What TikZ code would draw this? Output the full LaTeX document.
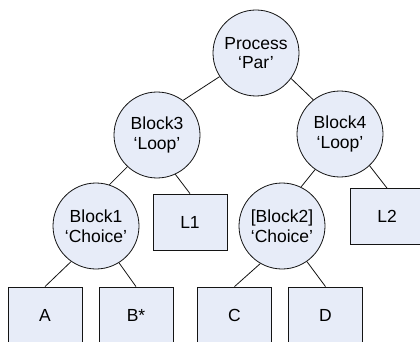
\documentclass[tikz,border=0pt]{standalone}
\usepackage{fontspec}
\setmainfont{Liberation Sans}
\usepackage{tikz}
\usetikzlibrary{positioning}
\usepackage{xcolor}
\definecolor{nodeline}{RGB}{20, 20, 20}
\definecolor{nodebg}{RGB}{231, 236, 248}

\begin{document}
\begin{tikzpicture}[
    x=1pt, y=-1pt,
    block/.style={circle, draw=nodeline, fill=nodebg, line width=0.8pt, minimum size=86pt, inner sep=0pt, align=center, font=\fontsize{17.5pt}{19.5pt}\selectfont},
    leaf/.style={rectangle, draw=nodeline, fill=nodebg, line width=0.8pt, minimum width=74pt, minimum height=56pt, inner sep=0pt, font=\fontsize{17.5pt}{19.5pt}\selectfont},
    edge/.style={draw=nodeline, line width=0.8pt}
]
    \useasboundingbox[fill=white] (0,0) rectangle (420,342);

    % operator nodes
    \node[block] (pr) at (256,53) {Process\\`Par'};
    \node[block] (b3) at (157,135) {Block3\\`Loop'};
    \node[block] (b4) at (340,134) {Block4\\`Loop'};
    \node[block] (b1) at (96,226) {Block1\\`Choice'};
    \node[block] (b2) at (282,226) {[Block2]\\`Choice'};

    % leaves
    \node[leaf] (l1) at (190,222) {L1};
    \node[leaf] (l2) at (387,216.5) {L2};
    \node[leaf] (la) at (45,315) {A};
    \node[leaf] (lb) at (136,315) {B*};
    \node[leaf] (lc) at (234.5,315) {C};
    \node[leaf] (ld) at (325.5,315) {D};

    \draw[edge] (pr.213) -- (b3.53);
    \draw[edge] (pr.-36) -- (b4.128);
    \draw[edge] (b3.227) -- (b1.72);
    \draw[edge] (b3.-65) -- (l1.north);
    \draw[edge] (b4.235) -- (b2.64);
    \draw[edge] (b4.-47) -- (l2.north);
    \draw[edge] (b1.235) -- (la.north);
    \draw[edge] (b1.-58) -- (lb.north);
    \draw[edge] (b2.240) -- (lc.north);
    \draw[edge] (b2.-55) -- (ld.north);
\end{tikzpicture}
\end{document}
